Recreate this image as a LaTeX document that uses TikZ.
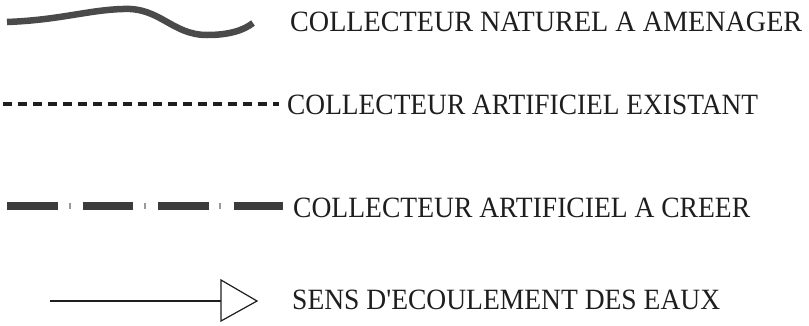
\documentclass[tikz,border=0pt]{standalone}
\usepackage{fontspec}
\setmainfont{Liberation Serif}
\usepackage{graphicx}
\definecolor{ink}{HTML}{1E1E1E}
\definecolor{wave}{HTML}{4A4A4A}
\definecolor{tick}{HTML}{9A9A9A}
\newcommand{\legtext}[2]{\resizebox{#1}{19.5pt}{#2}}
\tikzset{
  lbl/.style={anchor=base west, inner sep=0pt, text=ink, font=\fontsize{29}{29}\selectfont},
  natline/.style={line width=6.5pt, color=wave},
  exline/.style={line width=3.3pt, color=ink, dash pattern=on 9pt off 6pt},
  crline/.style={line width=8pt, color=wave!80!black, dash pattern=on 50.5pt off 25pt},
  tickline/.style={line width=1.5pt, color=tick},
  flowline/.style={line width=1.2pt, color=ink},
}
\begin{document}
\begin{tikzpicture}[x=1pt,y=-1pt]
\useasboundingbox (0,0) rectangle (809,325);
% legend line 1
\coordinate (w0) at (7,22);
\coordinate (w1) at (123,9);
\coordinate (w2) at (207,35);
\coordinate (w3) at (253,23);
\draw[natline] (w0) .. controls (60,20) and (88,10) .. (w1)
  .. controls (160,7) and (172,35) .. (w2)
  .. controls (230,35) and (244,30) .. (w3);
\node[lbl] (t1) at (290,31) {\legtext{512pt}{COLLECTEUR NATUREL A AMENAGER}};
% legend line 2
\coordinate (e0) at (3,104);
\coordinate (e1) at (279,104);
\draw[exline] (e0) -- (e1);
\node[lbl] (t2) at (287,114) {\legtext{471pt}{COLLECTEUR ARTIFICIEL EXISTANT}};
% legend line 3
\coordinate (c0) at (7,206);
\coordinate (c1) at (283,206);
\draw[crline] (c0) -- (c1);
\foreach \x in {70,145,220}{
  \draw[tickline] (\x,203) -- (\x,209);
}
\node[lbl] (t3) at (293,217) {\legtext{457pt}{COLLECTEUR ARTIFICIEL A CREER}};
% legend line 4
\coordinate (a0) at (50,301);
\coordinate (a1) at (221,301);
\coordinate (a2) at (221,280);
\coordinate (a3) at (257,301);
\coordinate (a4) at (221,321);
\draw[flowline] (a0) -- (a1);
\draw[flowline, line join=miter] (a2) -- (a3) -- (a4) -- cycle;
\node[lbl] (t4) at (292,309) {\legtext{428pt}{SENS D\textquotesingle ECOULEMENT DES EAUX}};
\end{tikzpicture}
\end{document}
